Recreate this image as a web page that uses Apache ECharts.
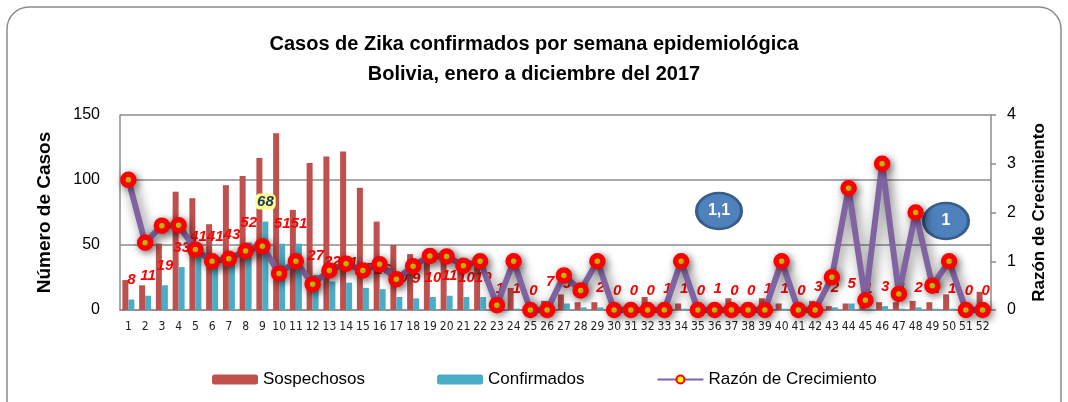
<!DOCTYPE html>
<html>
<head>
<meta charset="utf-8">
<script src="https://cdn.jsdelivr.net/npm/echarts@6/dist/echarts.min.js"></script>
<style>
  html, body { margin: 0; padding: 0; background: #fff; }
  #graph { width: 1068px; height: 402px; }
</style>
</head>
<body>
<div id="graph"></div>
<script>
// semanas epidemiologicas
var semanas = ['1','2','3','4','5','6','7','8','9','10','11','12','13','14','15','16','17','18','19','20',
  '21','22','23','24','25','26','27','28','29','30','31','32','33','34','35','36','37','38','39','40',
  '41','42','43','44','45','46','47','48','49','50','51','52'];

var sospechosos = [23, 19, 51, 91, 86, 66, 96, 103, 117, 136, 77, 113, 118, 122, 94, 68, 50, 43, 42, 40,
  30, 33, 5, 17, 2, 7, 12, 6, 6, 2, 3, 10, 3, 5, 2, 3, 9, 3, 9, 5,
  2, 7, 3, 5, 3, 6, 6, 7, 6, 12, 3, 14];

var confirmados = [8, 11, 19, 33, 41, 41, 43, 52, 68, 51, 51, 27, 22, 21, 17, 16, 10, 9, 10, 11,
  10, 10, 1, 1, 0, 7, 5, 2, 2, 0, 0, 0, 1, 1, 0, 1, 0, 0, 1, 1,
  0, 3, 2, 5, 1, 3, 1, 2, 1, 1, 0, 0];

var razon = [2.67, 1.38, 1.73, 1.74, 1.24, 1.00, 1.05, 1.21, 1.31, 0.75, 1.00, 0.53, 0.81, 0.95, 0.81, 0.94, 0.63, 0.90, 1.11, 1.10,
  0.91, 1.00, 0.10, 1.00, 0, 0, 0.71, 0.40, 1.00, 0, 0, 0, 0, 1.00, 0, 0, 0, 0, 0, 1.00,
  0, 0, 0.67, 2.50, 0.20, 3.00, 0.33, 2.00, 0.50, 1.00, 0, 0];

var casosTicks = [0, 50, 100, 150];
var razonTicks = [0, 1, 2, 3, 4];

var fuente = '"Liberation Sans", Arial, sans-serif';
var angosta = '"Liberation Sans Narrow", "DejaVu Sans Condensed", sans-serif';

// la semana 9 lleva la etiqueta resaltada
var datosConfirmados = confirmados.map(function (v, i) {
    if (i === 8) {
        return {
            value: v,
            label: {
                color: '#1F3864',
                backgroundColor: '#FFFF8C',
                borderRadius: 5,
                padding: [1, 2, 0, 2]
            }
        };
    }
    return v;
});

var myChart = echarts.init(document.getElementById('graph'));

var option = {
    animation: false,
    title: {
        text: 'Casos de Zika confirmados por semana epidemiológica\nBolivia, enero a diciembre del 2017',
        left: 'center',
        top: 24,
        textStyle: {
            fontFamily: fuente,
            fontSize: 20,
            fontWeight: 'bold',
            color: '#000',
            lineHeight: 30
        }
    },
    graphic: [
        {
            type: 'rect',
            shape: { x: 7, y: 7, width: 1054, height: 420, r: 22 },
            style: { fill: 'none', stroke: '#8c8c8c', lineWidth: 1.5 },
            z: -10
        },
        {
            type: 'group',
            x: 719, y: 211,
            children: [
                {
                    type: 'circle',
                    shape: { cx: 0, cy: 0, r: 18 },
                    scaleX: 1.25,
                    style: { fill: '#4F81BD', stroke: '#385D8A', lineWidth: 2.5 }
                },
                {
                    type: 'text',
                    style: { text: '1,1', x: 0, y: 0, align: 'center', verticalAlign: 'middle',
                        fill: '#fff', font: 'bold 16px ' + fuente }
                }
            ],
            z: 10
        },
        {
            type: 'group',
            x: 946, y: 221,
            children: [
                {
                    type: 'circle',
                    shape: { cx: 0, cy: 0, r: 18 },
                    scaleX: 1.25,
                    style: { fill: '#4F81BD', stroke: '#385D8A', lineWidth: 2.5 }
                },
                {
                    type: 'text',
                    style: { text: '1', x: 0, y: 0, align: 'center', verticalAlign: 'middle',
                        fill: '#fff', font: 'bold 16px ' + fuente }
                }
            ],
            z: 10
        }
    ],
    legend: {
        left: 207,
        top: 366,
        itemWidth: 46,
        itemHeight: 10,
        itemGap: 72,
        textStyle: { fontFamily: fuente, fontSize: 17, color: '#000' },
        data: ['Sospechosos', 'Confirmados', 'Razón de Crecimiento']
    },
    grid: {
        left: 120,
        right: 77,
        top: 115,
        bottom: 92
    },
    xAxis: {
        type: 'category',
        data: semanas,
        axisTick: { show: false },
        axisLine: { lineStyle: { color: '#8c8c8c', width: 1.5 } },
        axisLabel: {
            interval: 0,
            margin: 11,
            fontFamily: angosta,
            fontSize: 12,
            color: '#222'
        }
    },
    yAxis: [
        {
            type: 'value',
            min: casosTicks[0],
            max: casosTicks[casosTicks.length - 1],
            interval: 50,
            name: 'Número de Casos',
            nameLocation: 'middle',
            nameRotate: 90,
            nameGap: 66,
            nameTextStyle: { fontFamily: fuente, fontSize: 19, fontWeight: 'bold', color: '#000' },
            axisLine: { show: true, lineStyle: { color: '#8c8c8c', width: 1.5 } },
            axisTick: { show: false },
            axisLabel: { fontFamily: fuente, fontSize: 16, color: '#000', margin: 20 },
            splitLine: { lineStyle: { color: '#8c8c8c', width: 1.5 } }
        },
        {
            type: 'value',
            min: razonTicks[0],
            max: razonTicks[razonTicks.length - 1],
            interval: 1,
            name: 'Razón de Crecimiento',
            nameLocation: 'middle',
            nameRotate: 90,
            nameGap: 40,
            nameTextStyle: { fontFamily: fuente, fontSize: 17, fontWeight: 'bold', color: '#000' },
            axisLine: { show: true, lineStyle: { color: '#8c8c8c', width: 1.5 } },
            axisTick: { show: true, length: 5, lineStyle: { color: '#8c8c8c', width: 1.5 } },
            axisLabel: { fontFamily: fuente, fontSize: 16, color: '#000', margin: 16 },
            splitLine: { show: false }
        }
    ],
    series: [
        {
            name: 'Sospechosos',
            type: 'bar',
            z: 2,
            barWidth: 6,
            barGap: '0%',
            itemStyle: { color: '#C0504D' },
            data: sospechosos
        },
        {
            name: 'Confirmados',
            type: 'bar',
            z: 2,
            barWidth: 6,
            itemStyle: { color: '#4BACC6' },
            label: {
                show: true,
                position: 'top',
                distance: 12,
                color: '#FF0000',
                fontFamily: fuente,
                fontStyle: 'italic',
                fontWeight: 'bold',
                fontSize: 15
            },
            data: datosConfirmados
        },
        {
            name: 'Razón de Crecimiento',
            type: 'line',
            yAxisIndex: 1,
            z: 3,
            symbol: 'circle',
            symbolSize: 11,
            itemStyle: {
                color: '#FFFF00',
                borderColor: '#FF0000',
                borderWidth: 5.5,
                shadowColor: 'rgba(0,0,0,0.45)',
                shadowBlur: 8,
                shadowOffsetX: 2,
                shadowOffsetY: 2
            },
            lineStyle: {
                color: '#8064A2',
                width: 6,
                shadowColor: 'rgba(0,0,0,0.55)',
                shadowBlur: 12,
                shadowOffsetX: 3,
                shadowOffsetY: 3
            },
            data: razon
        }
    ]
};

myChart.setOption(option);
</script>
</body>
</html>
